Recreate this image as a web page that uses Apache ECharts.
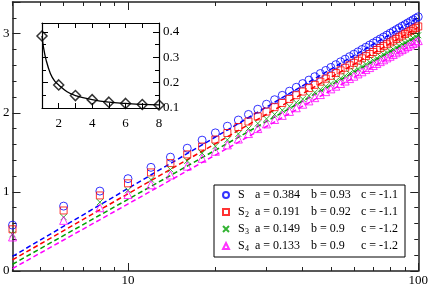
<!DOCTYPE html>
<html>
<head>
<meta charset="utf-8">
<script src="https://cdn.jsdelivr.net/npm/echarts@6/dist/echarts.min.js"></script>
<style>html,body{margin:0;padding:0;background:#fff}#c{width:431px;height:287px}</style>
</head>
<body>
<div id="c"></div>
<script>
const sizes = [4,6,8,10,12,14,16,18,20,22,24,26,28,30,32,34,36,38,40,42,44,46,48,50,52,54,56,58,60,62,64,66,68,70,72,74,76,78,80,82,84,86,88,90,92,94,96,98,100];
const S1 = [0.58,0.82,1.01,1.167,1.31,1.439,1.552,1.654,1.746,1.830,1.908,1.979,2.045,2.108,2.165,2.220,2.273,2.322,2.369,2.413,2.456,2.496,2.535,2.573,2.608,2.644,2.677,2.709,2.740,2.770,2.800,2.828,2.856,2.882,2.908,2.934,2.958,2.982,3.006,3.028,3.051,3.073,3.094,3.114,3.135,3.155,3.175,3.194,3.213];
const S2 = [0.527,0.765,0.955,1.108,1.246,1.364,1.474,1.573,1.662,1.744,1.820,1.889,1.954,2.015,2.071,2.124,2.175,2.222,2.268,2.312,2.353,2.393,2.431,2.467,2.502,2.536,2.569,2.600,2.631,2.659,2.688,2.716,2.743,2.768,2.794,2.819,2.842,2.866,2.889,2.911,2.933,2.954,2.975,2.995,3.015,3.034,3.054,3.072,3.091];
const S3 = [0.464,0.68,0.87,1.02,1.154,1.283,1.392,1.490,1.577,1.658,1.733,1.800,1.864,1.923,1.979,2.032,2.082,2.128,2.173,2.216,2.257,2.295,2.333,2.368,2.402,2.436,2.468,2.498,2.528,2.557,2.585,2.612,2.639,2.664,2.689,2.713,2.736,2.760,2.782,2.803,2.825,2.846,2.867,2.886,2.905,2.925,2.944,2.962,2.980];
const S4 = [0.43,0.64,0.80,0.966,1.09,1.213,1.325,1.424,1.513,1.594,1.668,1.737,1.800,1.859,1.915,1.967,2.017,2.063,2.108,2.150,2.191,2.230,2.267,2.302,2.336,2.370,2.401,2.432,2.462,2.491,2.518,2.546,2.571,2.597,2.622,2.646,2.669,2.693,2.714,2.736,2.758,2.779,2.798,2.818,2.838,2.857,2.876,2.894,2.912];
// dashed fit lines: value at x=4 and x=100
const fitX = [4, 100];
const fit1 = [0.185, 3.201];
const fit2 = [0.14, 3.079];
const fit3 = [0.085, 2.969];
const fit4 = [0.03, 2.901];
// inset
const insetN = [1,2,3,4,5,6,7,8];
const insetA = [0.384,0.191,0.149,0.133,0.123,0.118,0.114,0.112];
const curveX = [1,1.1,1.25,1.5,1.75,2,2.5,3,4,5,6,7,8];
const curveY = [0.384,0.335,0.288,0.236,0.207,0.191,0.164,0.149,0.133,0.123,0.118,0.114,0.112];
// ticks / labels
const xMajor = [10,100];
const xMinor = [4,5,6,7,8,9,20,30,40,50,60,70,80,90];
// legend text
const legNames = ['S','S2','S3','S4'];
const legSub = ['\u00a0','2','3','4'];
const legA = ['0.384','0.191','0.149','0.133'];
const legB = ['0.93','0.92','0.9','0.9'];
const legC = ['-1.1','-1.1','-1.2','-1.2'];
const colors = ['#0000ff','#ff0000','#00a000','#ff00ff'];

const FONT = 'Liberation Serif';
const AX = '#222';
const pair = (xs, ys) => xs.map((x,i)=>[x, ys[i]]);

function logX(gridIndex, pos, ticks, len, showLine, showLabel) {
  return {
    gridIndex, type:'log', logBase:10, min:4, max:100, position:pos,
    axisLine:{show:showLine, lineStyle:{color:AX,width:1.5}},
    axisTick:{show:true, inside:true, length:len, customValues:ticks, lineStyle:{color:AX,width:1}},
    axisLabel:{show:showLabel, customValues:xMajor, margin:3, fontFamily:FONT, fontSize:13, color:'#000'},
    splitLine:{show:false}, minorTick:{show:false}, minorSplitLine:{show:false}
  };
}
function mainY(pos, showLabel) {
  return {
    gridIndex:0, type:'value', min:0, max:3.4, interval:1, position:pos,
    axisLine:{show:true, lineStyle:{color:AX,width:1.5}},
    axisTick:{show:true, inside:true, length:8, lineStyle:{color:AX}},
    minorTick:{show:true, splitNumber:5, length:4, lineStyle:{color:AX}},
    axisLabel:{show:showLabel, margin:3, showMaxLabel:false, fontFamily:FONT, fontSize:13, color:'#000'},
    splitLine:{show:false}
  };
}
function insetX(pos, showLabel) {
  return {
    gridIndex:1, type:'value', min:1, max:8, interval:1, position:pos,
    axisLine:{show:true, lineStyle:{color:'#000',width:1.2}},
    axisTick:{show:true, inside:true, length:5, lineStyle:{color:'#000'}},
    axisLabel:{show:showLabel, margin:9, fontFamily:FONT, fontSize:13, color:'#000',
      formatter: v => (v % 2 === 0 ? String(v) : '')},
    splitLine:{show:false}
  };
}
function insetY(pos, showLabel) {
  return {
    gridIndex:1, type:'value', min:0.1, max:0.435, interval:0.1, position:pos,
    axisLine:{show:true, lineStyle:{color:'#000',width:1.2}},
    axisTick:{show:true, inside:true, length:6, lineStyle:{color:'#000'}},
    minorTick:{show:true, splitNumber:2, length:4, lineStyle:{color:'#000'}},
    axisLabel:{show:showLabel, margin:4, showMaxLabel:false, fontFamily:FONT, fontSize:13, color:'#000',
      formatter: v => v.toFixed(1)},
    splitLine:{show:false}
  };
}

const symbols = ['circle','rect','path://M0,0L10,10M10,0L0,10','triangle'];
const symSizes = [8,7,6,8];
const dataSets = [S1,S2,S3,S4];
const fits = [fit1,fit2,fit3,fit4];

const series = [];
fits.forEach((f,i)=>{
  series.push({type:'line', xAxisIndex:0, yAxisIndex:0, data:pair(fitX,f), symbol:'none', silent:true,
    lineStyle:{color:colors[i], width:1.5, type:[5,3]}, z:2});
});
dataSets.forEach((d,i)=>{
  series.push({type:'scatter', name:legNames[i], xAxisIndex:0, yAxisIndex:0, data:pair(sizes,d),
    symbol:symbols[i], symbolSize:symSizes[i], z:3,
    itemStyle:{color:'rgba(0,0,0,0)', borderColor:colors[i], borderWidth:1}});
});
series.push({type:'line', xAxisIndex:4, yAxisIndex:2, data:pair(curveX,curveY), smooth:0.4, symbol:'none',
  lineStyle:{color:'#000', width:1.3}, z:4});
series.push({type:'scatter', xAxisIndex:4, yAxisIndex:2, data:pair(insetN,insetA), symbol:'diamond', symbolSize:10,
  itemStyle:{color:'rgba(0,0,0,0)', borderColor:'#000', borderWidth:1.5}, z:5});

const option = {
  animation:false,
  grid:[
    {left:10, right:12, top:2, bottom:14},
    {left:42, right:272, top:23, bottom:179}
  ],
  xAxis:[
    logX(0,'bottom',xMajor,8,true,true),
    logX(0,'bottom',xMinor,4,false,false),
    logX(0,'top',xMajor,8,true,false),
    logX(0,'top',xMinor,4,false,false),
    insetX('bottom',true),
    insetX('top',false)
  ],
  yAxis:[
    mainY('left',true),
    mainY('right',false),
    insetY('right',true),
    insetY('left',false)
  ],
  legend:{
    data:legNames, orient:'vertical', left:214, top:185,
    itemWidth:6, itemHeight:6, itemGap:4,
    borderColor:'#000', borderWidth:1, padding:[4,4,4,8],
    formatter: name => {
      const i = legNames.indexOf(name);
      return '{p|\u00a0}{nm|S}{sub|' + legSub[i] + '}{a|a = ' + legA[i] + '}{b|b = ' + legB[i] + '}{c|c = ' + legC[i] + '}';
    },
    textStyle:{
      fontFamily:FONT, fontSize:12, color:'#000',
      rich:{
        p:{width:4, fontSize:12, lineHeight:14},
        nm:{width:7, fontFamily:FONT, fontSize:12, lineHeight:14},
        sub:{width:10, fontFamily:FONT, fontSize:8, lineHeight:6, verticalAlign:'bottom'},
        a:{width:56, fontFamily:FONT, fontSize:12, lineHeight:14},
        b:{width:50, fontFamily:FONT, fontSize:12, lineHeight:14},
        c:{width:40, fontFamily:FONT, fontSize:12, lineHeight:14}
      }
    }
  },
  series
};
const chart = echarts.init(document.getElementById('c'), null, {renderer:'canvas'});
chart.setOption(option);
</script>
</body>
</html>
